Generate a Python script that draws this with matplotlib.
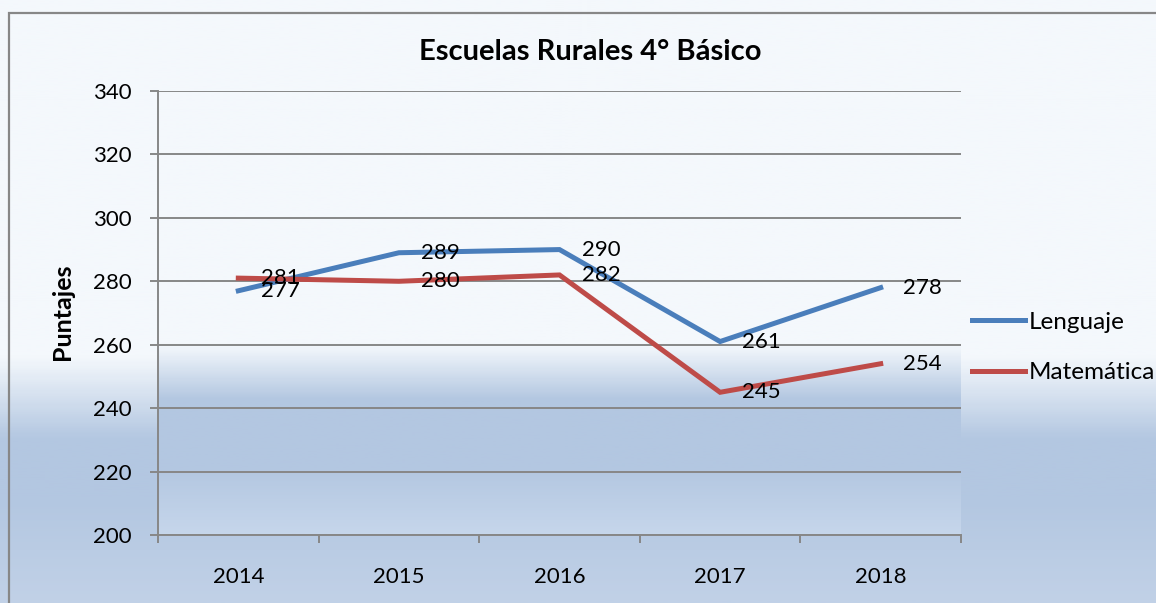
import matplotlib
matplotlib.use("Agg")
import matplotlib.pyplot as plt
import numpy as np
from matplotlib.colors import LinearSegmentedColormap
from matplotlib.patches import Rectangle

plt.rcParams["font.family"] = ["Lato", "DejaVu Sans"]

# datos
anios = ["2014", "2015", "2016", "2017", "2018"]
lenguaje = [277, 289, 290, 261, 278]
matematica = [281, 280, 282, 245, 254]

AZUL = "#4A7EBB"
ROJO = "#BE4B48"
GRIS = "#878787"

W, H = 1156, 603
fig = plt.figure(figsize=(W / 100, H / 100), dpi=100)

# fondo degradado de la figura
def degradado(paradas):
    pos = [p for p, _ in paradas]
    cols = [c for _, c in paradas]
    return LinearSegmentedColormap.from_list("g", list(zip(pos, cols)))

fondo = fig.add_axes([0, 0, 1, 1], zorder=-10)
cmap_fig = degradado([(0.0, "#F4F8FC"), (357 / H, "#F4F8FC"), (440 / H, "#B3C7E1"),
                      (500 / H, "#B3C7E1"), (1.0, "#C1D1E7")])
fondo.imshow(np.linspace(0, 1, 300).reshape(-1, 1), cmap=cmap_fig, aspect="auto",
             extent=[0, 1, 0, 1], origin="upper")
fondo.set_xlim(0, 1)
fondo.set_ylim(0, 1)
fondo.axis("off")

# marco exterior
fondo.add_patch(Rectangle((8.5 / W, -0.1), 1.2, 1.1 - 12.5 / H, fill=False,
                          edgecolor=GRIS, linewidth=1.6, clip_on=False))

# area de grafico
ax = fig.add_axes([158 / W, 68 / H, 803 / W, 444 / H])
x = np.arange(len(anios))
ax.set_xlim(-0.5, len(anios) - 0.5)
ax.set_ylim(200, 340)

cmap_ax = degradado([(0.0, "#F4F8FC"), ((345 - 91) / 444, "#F4F8FC"),
                     ((400 - 91) / 444, "#B3C7E1"), ((470 - 91) / 444, "#B3C7E1"),
                     (1.0, "#C6D6EB")])
ax.imshow(np.linspace(0, 1, 300).reshape(-1, 1), cmap=cmap_ax, aspect="auto",
          extent=[-0.5, len(anios) - 0.5, 200, 340], origin="upper", zorder=0)
ax.patch.set_alpha(0)

ax.plot(x, lenguaje, color=AZUL, linewidth=3.6, label="Lenguaje", zorder=3,
        solid_joinstyle="miter")
ax.plot(x, matematica, color=ROJO, linewidth=3.6, label="Matemática", zorder=3,
        solid_joinstyle="miter")

for serie in (lenguaje, matematica):
    for i, v in enumerate(serie):
        ax.annotate(str(v), (i, v), xytext=(16, 0), textcoords="offset points",
                    va="center", ha="left", fontsize=16, color="black", zorder=4)

ax.set_yticks(np.arange(200, 341, 20))
ax.yaxis.grid(True, color=GRIS, linewidth=1.4, zorder=1)
ax.set_axisbelow(True)
ax.set_xticks(x)
ax.set_xticklabels(anios)
ax.set_xticks(np.arange(-0.5, len(anios), 1), minor=True)
ax.tick_params(axis="x", which="major", length=0, pad=23, labelsize=16)
ax.tick_params(axis="x", which="minor", length=6, width=1.4, color=GRIS, direction="out")
ax.tick_params(axis="y", length=6, width=1.4, color=GRIS, pad=13, labelsize=16)
for lado in ("top", "right"):
    ax.spines[lado].set_visible(False)
for lado in ("left", "bottom"):
    ax.spines[lado].set_color(GRIS)
    ax.spines[lado].set_linewidth(1.4)

fig.text(590 / W, 1 - 52 / H, "Escuelas Rurales 4° Básico", ha="center", va="center",
         fontsize=21, fontweight="bold")
fig.text(62 / W, 1 - 312 / H, "Puntajes", ha="center", va="center", rotation=90,
         fontsize=18, fontweight="bold")

fig.legend(loc="center left", bbox_to_anchor=(972 / W, 1 - 347.5 / H), frameon=False,
           fontsize=17.5, handlelength=2.2, handletextpad=0.12, labelspacing=1.2,
           borderpad=0, borderaxespad=0)

fig.savefig("out.png", dpi=100)
